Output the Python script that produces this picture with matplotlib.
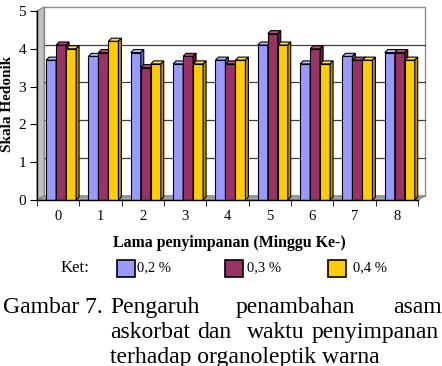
import matplotlib.pyplot as plt
from matplotlib.patches import Polygon, Rectangle

W, H = 442, 366

weeks = ["0", "1", "2", "3", "4", "5", "6", "7", "8"]
series_labels = ["0,2 %", "0,3 %", "0,4 %"]
conc_02 = [3.7, 3.8, 3.9, 3.6, 3.7, 4.1, 3.6, 3.8, 3.9]
conc_03 = [4.1, 3.9, 3.5, 3.8, 3.6, 4.4, 4.0, 3.7, 3.9]
conc_04 = [4.0, 4.2, 3.6, 3.6, 3.7, 4.1, 3.6, 3.7, 3.7]
series = [conc_02, conc_03, conc_04]

face = ["#9999FF", "#993366", "#FFCC00"]
side = ["#6A6AB8", "#66203F", "#B89000"]
top = ["#B8B8FF", "#B0507E", "#FFDD55"]

plt.rcParams["font.family"] = ["Liberation Serif", "DejaVu Serif"]


def fx(px):
    return px / W


def fy(py):
    return 1 - py / H


fig = plt.figure(figsize=(W / 100, H / 100), dpi=100)
ax = fig.add_axes([fx(37), fy(200), (418 - 37) / W, (200 - 11) / H])
ax.set_xlim(-0.5, 8.5)
ax.set_ylim(0, 5)
ax.patch.set_alpha(0)

# depth of the back wall, in data units
dx, dy = 0.17, 0.11

ax.add_patch(Polygon([(-0.5 + dx, dy), (8.5 + dx, dy), (8.5 + dx, 5 + dy), (-0.5 + dx, 5 + dy)],
                     closed=True, facecolor="white", edgecolor="#909090", lw=1.0,
                     clip_on=False, zorder=0))
for v in range(1, 5):
    ax.plot([-0.5 + dx, 8.5 + dx], [v + dy, v + dy], color="#404040", lw=0.9,
            clip_on=False, zorder=1)
ax.add_patch(Polygon([(-0.5, 0), (-0.5, 5), (-0.5 + dx, 5 + dy), (-0.5 + dx, dy)],
                     closed=True, facecolor="#C0C0C0", edgecolor="#808080", lw=0.8,
                     clip_on=False, zorder=1))
ax.add_patch(Polygon([(-0.5, 0), (8.5, 0), (8.5 + dx, dy), (-0.5 + dx, dy)],
                     closed=True, facecolor="#A0A0A0", edgecolor="#808080", lw=0.8,
                     clip_on=False, zorder=1))

# bars with a small 3D depth
bw = 0.236
bdx, bdy = 0.07, 0.08
shift = 0.07
z = 2
for i in range(len(weeks)):
    for s in range(3):
        v = series[s][i]
        x0 = i - 1.5 * bw + s * bw + shift
        ax.bar(x0, v, width=bw, align="edge", color=face[s], edgecolor="black",
               lw=0.8, zorder=z)
        ax.add_patch(Polygon([(x0, v), (x0 + bdx, v + bdy), (x0 + bw + bdx, v + bdy), (x0 + bw, v)],
                             closed=True, facecolor=top[s], edgecolor="black", lw=0.8,
                             clip_on=False, zorder=z))
        ax.add_patch(Polygon([(x0 + bw, 0), (x0 + bw, v), (x0 + bw + bdx, v + bdy), (x0 + bw + bdx, bdy)],
                             closed=True, facecolor=side[s], edgecolor="black", lw=0.8,
                             clip_on=False, zorder=z))
        z += 1

ax.spines["top"].set_visible(False)
ax.spines["right"].set_visible(False)
for sp in ["left", "bottom"]:
    ax.spines[sp].set_color("black")
    ax.spines[sp].set_linewidth(1.0)
    ax.spines[sp].set_zorder(50)

ax.set_xticks(range(len(weeks)))
ax.set_xticklabels(weeks, fontsize=10.5)
ax.set_xticks([i - 0.5 for i in range(len(weeks) + 1)], minor=True)
ax.tick_params(axis="x", which="major", length=0, pad=7)
ax.tick_params(axis="x", which="minor", length=4, direction="out", color="black")
ax.set_yticks(range(6))
ax.set_yticklabels([str(v) for v in range(6)], fontsize=11)
ax.tick_params(axis="y", length=5, direction="out", color="black", pad=3)

fig.text(fx(8), fy(104), "Skala Hedonik", rotation=90, ha="center", va="center",
         fontsize=11, fontweight="bold")
fig.text(fx(229), fy(243), "Lama penyimpanan (Minggu Ke-)", ha="center", va="center",
         fontsize=11.4, fontweight="bold")

# legend row
fig.text(fx(61), fy(268), "Ket:", ha="left", va="center", fontsize=12)
leg_x = [117, 225, 328]
txt_x = [137, 247, 353]
for s in range(3):
    fig.patches.append(Rectangle((fx(leg_x[s]), fy(277)), 18 / W, 17 / H,
                                 transform=fig.transFigure, facecolor=face[s],
                                 edgecolor="black", lw=1.2))
    fig.text(fx(txt_x[s]), fy(268), series_labels[s], ha="left", va="center",
             fontsize=10.5)

# caption (justified by hand)
cap_size = 17
line1 = [("Gambar 7.", 3), ("Pengaruh", 110), ("penambahan", 236), ("asam", 393)]
line2 = [("askorbat", 110), ("dan", 197), ("waktu", 247), ("penyimpanan", 312)]
for word, x in line1:
    fig.text(fx(x), fy(313), word, ha="left", va="baseline", fontsize=cap_size)
for word, x in line2:
    fig.text(fx(x), fy(338), word, ha="left", va="baseline", fontsize=cap_size)
fig.text(fx(110), fy(363), "terhadap organoleptik warna", ha="left", va="baseline",
         fontsize=cap_size)

fig.savefig("out.png", dpi=100)
